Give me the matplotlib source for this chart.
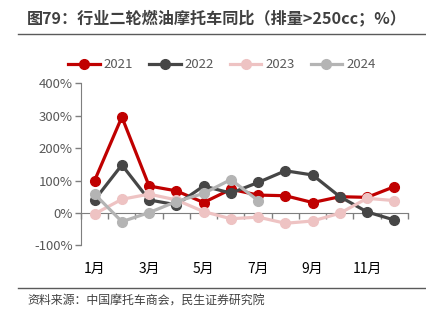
import numpy as np
import matplotlib.pyplot as plt
from matplotlib.lines import Line2D

plt.rcParams['font.family'] = ['Noto Sans CJK SC', 'DejaVu Sans']

months = ['1月', '2月', '3月', '4月', '5月', '6月', '7月', '8月', '9月', '10月', '11月', '12月']
y2021 = [100, 296, 83, 68, 32, 73, 55, 53, 32, 50, 48, 81]
y2022 = [40, 148, 40, 25, 83, 61, 94, 130, 117, 50, 3, -22]
y2023 = [-3, 42, 58, 40, 4, -18, -13, -32, -25, -1, 45, 38]
y2024 = [58, -27, 1, 35, 60, 103, 38]
series = ['2021', '2022', '2023', '2024']
colors = ['#C00000', '#464646', '#EEC3C3', '#B4B4B4']
yticks = [-100, 0, 100, 200, 300, 400]

W, H = 427, 324
fig = plt.figure(figsize=(W / 100, H / 100), dpi=100)
ax = fig.add_axes([81 / W, 1 - 245.3 / H, (408 - 81) / W, (245.3 - 83.3) / H])

data = [y2021, y2022, y2023, y2024]
for vals, c, name in zip(data, colors, series):
    x = np.arange(len(vals))
    ax.plot(x, vals, color=c, lw=2.3, marker='o', ms=7, label=name, zorder=3)

ax.set_xlim(-0.5, 11.5)
ax.set_ylim(-100, 400)
ax.set_yticks(yticks)
ax.set_yticklabels([f'{v}%' for v in yticks], fontsize=9.5, color='#595959')

ax.set_xticks(np.arange(0, 12, 2))
ax.set_xticklabels(months[::2], fontsize=9.5, color='#595959')
ax.set_xticks(np.arange(-0.5, 12, 1), minor=True)
ax.tick_params(axis='x', which='major', length=0, pad=35)
ax.tick_params(axis='x', which='minor', length=4, color='#7f7f7f', width=1)
ax.tick_params(axis='y', length=4, color='#7f7f7f', width=1, pad=2)

for s in ['top', 'right']:
    ax.spines[s].set_visible(False)
ax.spines['bottom'].set_position(('data', 0))
ax.spines['bottom'].set_color('#7f7f7f')
ax.spines['left'].set_color('#7f7f7f')
ax.spines['bottom'].set_zorder(1)

handles = [Line2D([0], [0], color=c, lw=2.3, marker='o', ms=7) for c in colors]
fig.legend(handles, series, loc='center left', bbox_to_anchor=(68 / W, 1 - 65 / H),
           ncol=4, frameon=False, fontsize=9.5, labelcolor='#595959',
           handlelength=2.4, handletextpad=0.3, columnspacing=1.2, borderaxespad=0,
           borderpad=0)

fig.text(27 / W, 1 - 18 / H, '图79：行业二轮燃油摩托车同比（排量>250cc；%）',
         fontsize=11.6, fontweight='bold', color='#404040', va='center', ha='left')
fig.add_artist(Line2D([18 / W, 1], [1 - 34 / H, 1 - 34 / H], color='#5a5a5a', lw=1))
fig.add_artist(Line2D([18 / W, 1], [1 - 287.5 / H, 1 - 287.5 / H], color='#5a5a5a', lw=1))
fig.text(27 / W, 1 - 300 / H, '资料来源：中国摩托车商会，民生证券研究院',
         fontsize=8.6, color='#404040', va='center', ha='left')

fig.savefig('out.png', dpi=100)
